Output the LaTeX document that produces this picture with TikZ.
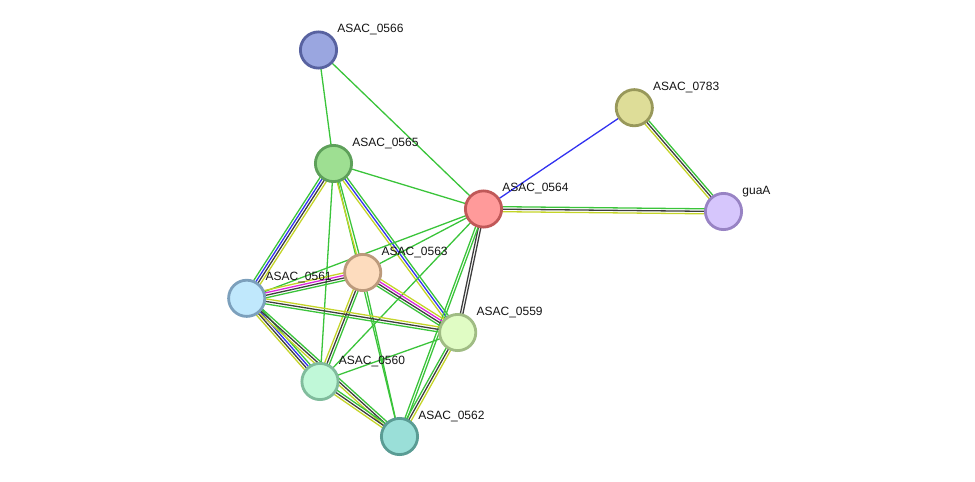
\documentclass[tikz,border=0pt]{standalone}
\usepackage{fontspec}
\setmainfont{Liberation Sans}
\usetikzlibrary{calc,backgrounds}
\definecolor{sgreen}{RGB}{58,196,58}
\definecolor{syellow}{RGB}{196,212,40}
\definecolor{sgray}{RGB}{62,62,62}
\definecolor{sblue}{RGB}{50,50,240}
\definecolor{smag}{RGB}{220,40,220}
\definecolor{labc}{RGB}{20,20,20}
\tikzset{
  prot/.style={circle, minimum size=36.2pt, inner sep=0pt, line width=2.8pt},
  lab/.style={anchor=base west, font=\fontsize{12}{14}\selectfont, text=labc, inner sep=0pt},
  band/.style={line width=1.3pt},
}
\newcommand\medge[3]{%
  \foreach \col [count=\i] in {#3} {\xdef\nlines{\i}}%
  \foreach \col [count=\i] in {#3} {%
    \pgfmathsetmacro\off{(\i-(\nlines+1)/2)*2.5}%
    \draw[band,\col] ($(#1)!\off pt!90:(#2)$) -- ($(#2)!\off pt!-90:(#1)$);%
  }%
}
\begin{document}
\begin{tikzpicture}[x=1pt,y=-1pt]
\path[use as bounding box] (0,0) rectangle (975,482);
% proteins
\node[prot, draw={rgb,255:red,88;green,98;blue,160}, fill={rgb,255:red,154;green,166;blue,224}] (a66) at (318.5,50) {};
\node[prot, draw={rgb,255:red,152;green,152;blue,90}, fill={rgb,255:red,222;green,221;blue,152}] (a83) at (634.3,107.7) {};
\node[prot, draw={rgb,255:red,94;green,160;blue,90}, fill={rgb,255:red,158;green,223;blue,146}] (a65) at (333.5,163.5) {};
\node[prot, draw={rgb,255:red,192;green,88;blue,88}, fill={rgb,255:red,255;green,154;blue,154}] (a64) at (483.5,209) {};
\node[prot, draw={rgb,255:red,152;green,131;blue,196}, fill={rgb,255:red,214;green,198;blue,252}] (gua) at (723.5,211.5) {};
\node[prot, draw={rgb,255:red,188;green,154;blue,124}, fill={rgb,255:red,253;green,220;blue,190}] (a63) at (362.7,272.5) {};
\node[prot, draw={rgb,255:red,124;green,160;blue,188}, fill={rgb,255:red,192;green,232;blue,252}] (a61) at (246.7,298.3) {};
\node[prot, draw={rgb,255:red,160;green,188;blue,132}, fill={rgb,255:red,224;green,252;blue,196}] (a59) at (457.7,332.5) {};
\node[prot, draw={rgb,255:red,128;green,188;blue,156}, fill={rgb,255:red,192;green,248;blue,216}] (a60) at (320,381.5) {};
\node[prot, draw={rgb,255:red,90;green,156;blue,148}, fill={rgb,255:red,154;green,223;blue,216}] (a62) at (399.5,436.5) {};
% labels
\node[lab] (l66) at ($(a66)+(18.7,-17.5)$) {ASAC\_0566};
\node[lab] (l83) at ($(a83)+(18.7,-17.5)$) {ASAC\_0783};
\node[lab] (l65) at ($(a65)+(18.7,-17.5)$) {ASAC\_0565};
\node[lab] (l64) at ($(a64)+(18.7,-17.5)$) {ASAC\_0564};
\node[lab] (lgu) at ($(gua)+(18.7,-17.5)$) {guaA};
\node[lab] (l63) at ($(a63)+(18.7,-17.5)$) {ASAC\_0563};
\node[lab] (l61) at ($(a61)+(18.7,-17.5)$) {ASAC\_0561};
\node[lab] (l59) at ($(a59)+(18.7,-17.5)$) {ASAC\_0559};
\node[lab] (l60) at ($(a60)+(18.7,-17.5)$) {ASAC\_0560};
\node[lab] (l62) at ($(a62)+(18.7,-17.5)$) {ASAC\_0562};
% edges
\begin{pgfonlayer}{background}
\medge{a66}{a65}{sgreen}
\medge{a66}{a64}{sgreen}
\medge{a83}{a64}{sblue}
\medge{a83}{gua}{syellow,sgray,sgreen}
\medge{a64}{gua}{syellow,sgray,sgreen}
\medge{a65}{a64}{sgreen}
\medge{a65}{a61}{sgreen,sblue,sgray,syellow}
\medge{a65}{a60}{sgreen}
\medge{a65}{a62}{sgreen}
\medge{a65}{a63}{syellow,sgreen}
\medge{a65}{a59}{syellow,sblue,sgreen}
\medge{a64}{a61}{sgreen}
\medge{a64}{a63}{sgreen}
\medge{a64}{a60}{sgreen}
\medge{a64}{a59}{sgray,sgray}
\medge{a64}{a62}{sgreen,sgreen}
\medge{a63}{a61}{syellow,smag,sgray,sgreen}
\medge{a63}{a59}{sgreen,sgray,smag,syellow}
\medge{a63}{a60}{syellow,sgray,sgreen}
\medge{a63}{a62}{sgreen}
\medge{a61}{a59}{sgreen,sgray,syellow}
\medge{a61}{a60}{syellow,sgray,sblue,sgreen}
\medge{a61}{a62}{syellow,sgray,sgreen}
\medge{a60}{a62}{syellow,sgray,sgreen}
\medge{a60}{a59}{sgreen}
\medge{a59}{a62}{sgreen,sgray,syellow}
\end{pgfonlayer}
\end{tikzpicture}
\end{document}
